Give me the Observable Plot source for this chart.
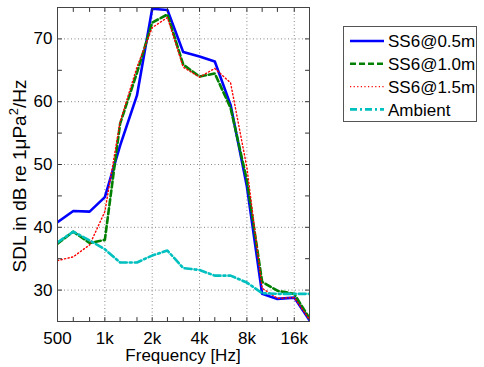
<!DOCTYPE html>
<html><head><meta charset="utf-8">
<script src="https://cdn.jsdelivr.net/npm/d3@7"></script>
<script src="https://cdn.jsdelivr.net/npm/@observablehq/plot@0.6"></script>
<style>
body{margin:0;background:#fff}
svg{font-family:"Liberation Sans",Arial,sans-serif;background:#fff}
</style>
</head><body><div id="chart"></div><script>
const freqs = [500,630,800,1000,1250,1600,2000,2500,3150,4000,5000,6300,8000,10000,12500,16000,20000];
const seriesNames = ["SS6@0.5m","SS6@1.0m","SS6@1.5m","Ambient"];
const ss05 = [40.8,42.6,42.5,44.8,53.0,61.0,74.8,74.6,67.9,67.2,66.4,59.5,46.5,29.4,28.6,28.8,25.2];
const ss10 = [37.4,39.3,37.5,38.0,56.5,64.6,72.6,73.9,65.9,64.0,64.5,59.0,47.5,31.3,29.9,29.4,25.5];
const ss15 = [34.7,35.3,37.2,42.5,56.8,65.5,71.8,73.4,65.5,63.9,65.3,63.0,49.5,30.3,28.7,28.8,25.3];
const ambient = [37.6,39.3,37.9,36.5,34.4,34.4,35.5,36.3,33.5,33.2,32.3,32.3,31.2,29.5,29.4,29.4,29.4];
const xTickValues = [500,1000,2000,4000,8000,16000];
const xTickLabels = ["500","1k","2k","4k","8k","16k"];
const yTickValues = [30,40,50,60,70];
const yMinorTicks = [25,30,35,40,45,50,55,60,65,70,75];
const xDomain = [500,20000];
const yDomain = [25,75];

const colors = ["#0000ff","#008000","#ff0000","#00bfbf"];
const dashes = [null,"6,3","1.2,2.4","7,3,2,3"];
const widths = [2.6,2.6,1.4,2.6];
const allSeries = [ss05, ss10, ss15, ambient];

const tables = allSeries.map((vals, s) => freqs.map((f, i) => ({freq: f, value: vals[i], series: seriesNames[s]})));

const tickShape = {draw(ctx, l){ ctx.moveTo(0,0); ctx.lineTo(0,-l); }};
const tickOpts = {length: 4, anchor: "start", shape: tickShape, stroke: "#333", strokeWidth: 1};
const gridOpts = {stroke: "#888", strokeOpacity: 1, strokeWidth: 1, strokeDasharray: "1,2.5"};

const W = 484, H = 367;
const plot = Plot.plot({
  width: W, height: H,
  marginLeft: 57, marginRight: 175, marginTop: 7, marginBottom: 46,
  style: {fontFamily: '"Liberation Sans",Arial,sans-serif', fontSize: "17px", background: "#fff"},
  x: {type: "log", domain: xDomain, axis: null},
  y: {domain: yDomain, axis: null},
  marks: [
    Plot.ruleX(xTickValues.slice(1), {x: d => d, ...gridOpts}),
    Plot.ruleY(yTickValues, {y: d => d, ...gridOpts}),
    ...tables.map((t, s) => Plot.line(t, {
      x: "freq", y: "value", stroke: colors[s], strokeWidth: widths[s],
      strokeDasharray: dashes[s], strokeLinejoin: "round", clip: true
    })),
    Plot.vector(freqs, {x: d => d, y: yDomain[0], rotate: 0, ...tickOpts}),
    Plot.vector(freqs, {x: d => d, y: yDomain[1], rotate: 180, ...tickOpts}),
    Plot.vector(yMinorTicks, {x: xDomain[0], y: d => d, rotate: 90, ...tickOpts}),
    Plot.vector(yMinorTicks, {x: xDomain[1], y: d => d, rotate: -90, ...tickOpts}),
    Plot.frame({stroke: "#444"}),
    Plot.text(xTickValues, {x: d => d, y: yDomain[0], text: (d, i) => xTickLabels[i],
      dy: 17, fontSize: 17, fill: "#000", textAnchor: "middle"}),
    Plot.text(yTickValues, {x: xDomain[0], y: d => d, text: d => String(d),
      dx: -5, fontSize: 17, fill: "#000", textAnchor: "end"})
  ]
});
document.getElementById("chart").appendChild(plot);

const svg = d3.select(plot);
// x label
svg.append("text").attr("x", 183).attr("y", 361).attr("text-anchor", "middle")
  .attr("font-size", 17).attr("fill", "#000").text("Frequency [Hz]");
// y label
const yl = svg.append("text").attr("transform", "translate(26,176) rotate(-90)")
  .attr("text-anchor", "middle").attr("font-size", 19).attr("fill", "#000");
yl.append("tspan").text("SDL in dB re 1\u03bcPa");
yl.append("tspan").attr("font-size", 13).attr("dy", -8).text("2");
yl.append("tspan").attr("dy", 8).text("/Hz");

// legend
const lg = svg.append("g").attr("text-anchor", "start");
lg.append("rect").attr("x", 343.5).attr("y", 26.5).attr("width", 133).attr("height", 95)
  .attr("fill", "#fff").attr("stroke", "#555");
seriesNames.forEach((name, i) => {
  const y = 41 + i * 22.8;
  lg.append("line").attr("x1", 350).attr("x2", 384).attr("y1", y).attr("y2", y)
    .attr("stroke", colors[i]).attr("stroke-width", widths[i])
    .attr("stroke-dasharray", dashes[i]);
  lg.append("text").attr("x", 388).attr("y", y).attr("dy", "0.36em")
    .attr("text-anchor", "start")
    .attr("font-size", 17).attr("fill", "#000").text(name);
});
</script></body></html>
